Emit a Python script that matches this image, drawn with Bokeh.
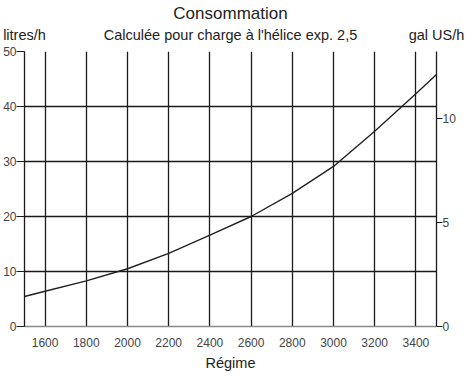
from bokeh.plotting import figure
from bokeh.models import LinearAxis, Range1d, FixedTicker, Title
from bokeh.embed import file_html
from bokeh.resources import INLINE

# --- data ---
regime = [1500, 1600, 1800, 2000, 2200, 2400, 2600, 2800, 3000, 3200, 3400, 3500]
conso_lh = [5.45, 6.4, 8.3, 10.5, 13.3, 16.6, 20.0, 24.2, 29.1, 35.5, 42.3, 45.8]
x_ticks = [1600, 1800, 2000, 2200, 2400, 2600, 2800, 3000, 3200, 3400]
y_ticks = [0, 10, 20, 30, 40, 50]
gal_ticks = [0, 5, 10]
LITRES_PER_GAL = 3.785

title_text = "Consommation"
subtitle_text = "Calculée pour charge à l'hélice exp. 2,5"
left_unit = "litres/h"
right_unit = "gal US/h"
x_label = "Régime"

X_START, X_END = 1500, 3500

FONT = "Liberation Sans"
TICKCOL = "#444444"
TXT = "#222222"

p = figure(width=466, height=373, output_backend="svg", toolbar_location=None,
           x_range=Range1d(X_START, X_END), y_range=Range1d(0, 50),
           min_border_left=17, min_border_right=30, min_border_top=0, min_border_bottom=0)
p.outline_line_color = None
p.background_fill_color = "white"

p.extra_y_ranges = {"gal": Range1d(0, 50 / LITRES_PER_GAL)}

# grids
p.xgrid.ticker = FixedTicker(ticks=x_ticks)
p.ygrid.ticker = FixedTicker(ticks=[10, 20, 30, 40, 50])
for g in (p.xgrid[0], p.ygrid[0]):
    g.grid_line_color = "#1a1a1a"
    g.grid_line_width = 1.3

# bottom axis
xa = p.xaxis[0]
xa.ticker = FixedTicker(ticks=x_ticks)
xa.major_tick_out = 0
xa.major_tick_in = 0
xa.minor_tick_line_color = None
xa.axis_line_color = "#8a8a8a"
xa.axis_line_width = 1.6
xa.major_label_standoff = 11
xa.major_label_text_font = FONT
xa.major_label_text_font_size = "12px"
xa.major_label_text_color = TICKCOL
xa.axis_label = x_label
xa.axis_label_text_font = FONT
xa.axis_label_text_font_style = "normal"
xa.axis_label_text_font_size = "14.5px"
xa.axis_label_text_color = TXT
xa.axis_label_standoff = 5

# left axis
ya = p.yaxis[0]
ya.ticker = FixedTicker(ticks=y_ticks)
ya.major_tick_out = 8
ya.major_tick_in = 0
ya.minor_tick_line_color = None
ya.axis_line_color = "#1a1a1a"
ya.axis_line_width = 1.3
ya.major_tick_line_color = "#1a1a1a"
ya.major_tick_line_width = 1.2
ya.major_label_standoff = 0
ya.major_label_text_font = FONT
ya.major_label_text_font_size = "12px"
ya.major_label_text_color = TICKCOL

# right axis (gal US/h)
ra = LinearAxis(y_range_name="gal", ticker=FixedTicker(ticks=gal_ticks))
ra.major_tick_out = 6
ra.major_tick_in = 0
ra.minor_tick_line_color = None
ra.axis_line_color = "#1a1a1a"
ra.axis_line_width = 1.3
ra.major_tick_line_color = "#1a1a1a"
ra.major_tick_line_width = 1.2
ra.major_label_standoff = 0
ra.major_label_text_font = FONT
ra.major_label_text_font_size = "12px"
ra.major_label_text_color = TICKCOL
p.add_layout(ra, "right")

# top row: unit names at the two ends of the frame, subtitle in the middle
mid = (X_START + X_END) // 2
ta = LinearAxis(ticker=FixedTicker(ticks=[X_START, mid, X_END]),
                major_label_overrides={X_START: left_unit, mid: subtitle_text, X_END: right_unit})
ta.axis_line_color = None
ta.major_tick_line_color = None
ta.minor_tick_line_color = None
ta.major_tick_out = 0
ta.major_tick_in = 0
ta.major_label_standoff = 9
ta.major_label_text_font = FONT
ta.major_label_text_font_size = "14.5px"
ta.major_label_text_color = TXT
p.add_layout(ta, "above")

# curve
p.line(regime, conso_lh, line_color="#222222", line_width=1.4)

# main title
p.add_layout(Title(text=title_text, align="center",
                   text_font=FONT, text_font_size="17px", text_font_style="normal",
                   text_color=TXT, standoff=2), "above")

open("out.html", "w").write(file_html(p, INLINE))
